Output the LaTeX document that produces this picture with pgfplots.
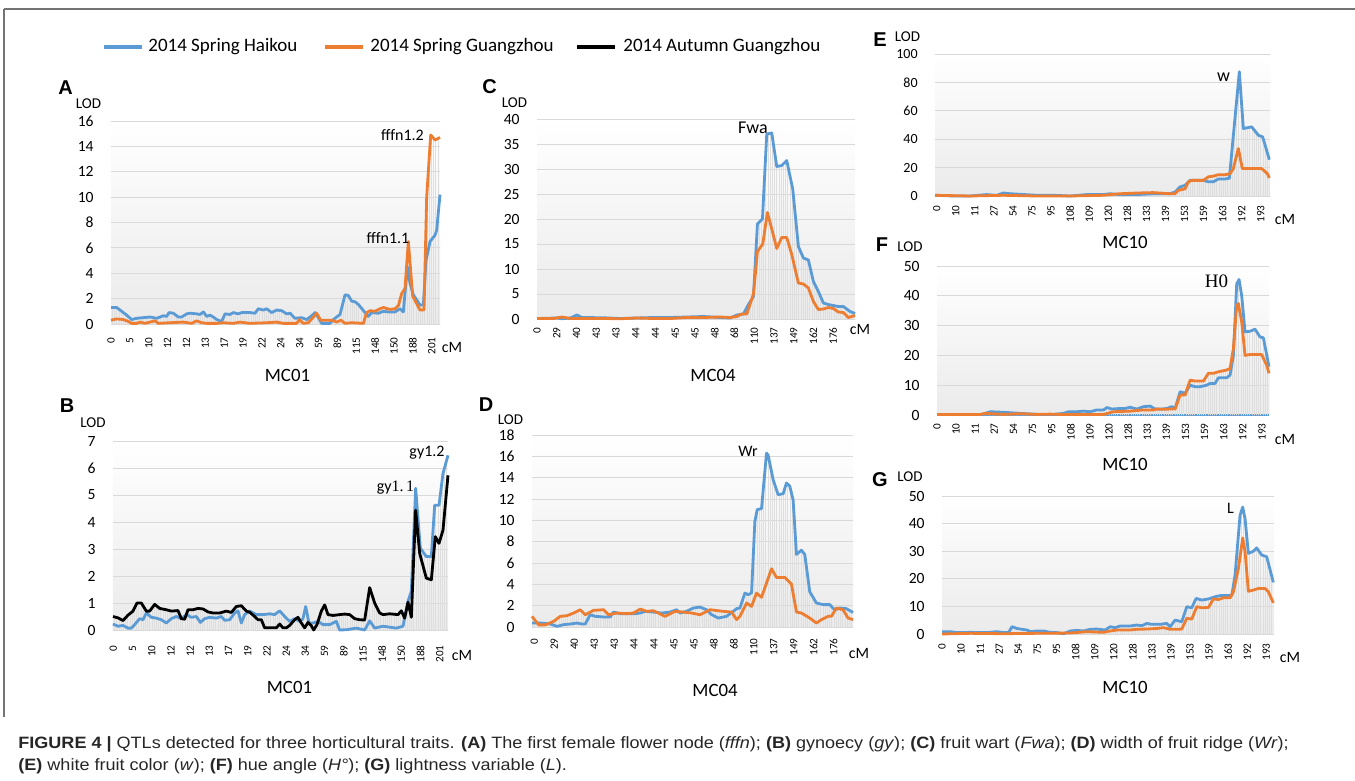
\documentclass[border=0pt]{standalone}
\usepackage{fontspec}
\setmainfont{Carlito}
\newfontfamily\capfont{Liberation Sans}
\newfontfamily\tnr{Liberation Serif}
\usepackage{pgfplots}
\pgfplotsset{compat=1.18}
\usepackage{pgfplotstable}
\usetikzlibrary{patterns.meta}
\definecolor{cblue}{HTML}{5B9BD5}
\definecolor{corange}{HTML}{ED7D31}
\definecolor{gridc}{HTML}{D9D9D9}
\pgfplotsset{
 qtl/.style={scale only axis, anchor=south west, axis line style={draw=none}, major tick length=0pt, tick style={draw=none}, ymin=0,
  ymajorgrids, grid style={draw=gridc, line width=0.5pt},
  axis background/.style={top color=white, bottom color=black!8},
  /pgf/number format/assume math mode=true,
  yticklabel style={font=\fontsize{7.8}{8}\selectfont, inner sep=0pt}, yticklabel shift=8.5pt,
  xticklabel style={font=\fontsize{5.6}{6}\selectfont, rotate=90, anchor=east, inner sep=0pt},
  clip=false},
 dl/.style={draw=none, pattern={Lines[angle=90,distance=1.1pt,line width=0.3pt]}, pattern color=black!13, forget plot},
 sb/.style={cblue, line width=1.4pt, line join=round},
 so/.style={corange, line width=1.4pt, line join=round},
 sk/.style={black, line width=1.4pt, line join=round},
}
% ---------- data (x = position along the marker axis, y = LOD) ----------
\pgfplotstableread[row sep=\\]{x y\\ 183 1.3\\ 200 1.3\\ 215 1.0\\ 230 0.7\\ 245 0.35\\ 260 0.45\\ 280 0.5\\ 300 0.55\\ 320 0.45\\ 340 0.65\\ 350 0.6\\ 357 0.9\\ 370 0.85\\ 385 0.55\\ 395 0.55\\ 410 0.8\\ 420 0.85\\ 440 0.8\\ 450 0.75\\ 460 0.95\\ 470 0.6\\ 480 0.7\\ 490 0.55\\ 500 0.35\\ 515 0.2\\ 525 0.8\\ 540 0.75\\ 550 0.9\\ 565 0.8\\ 575 0.9\\ 600 0.9\\ 615 0.85\\ 625 1.2\\ 640 1.1\\ 650 1.2\\ 665 0.9\\ 680 1.1\\ 695 1.05\\ 710 0.8\\ 720 0.85\\ 735 0.45\\ 755 0.5\\ 770 0.35\\ 785 0.65\\ 795 0.9\\ 805 0.5\\ 815 0.05\\ 840 0.05\\ 850 0.35\\ 870 0.75\\ 885 2.3\\ 895 2.25\\ 905 1.8\\ 915 1.75\\ 925 1.55\\ 945 0.9\\ 955 0.6\\ 965 0.9\\ 985 0.85\\ 1000 1.0\\ 1015 0.95\\ 1035 0.95\\ 1050 1.2\\ 1060 0.95\\ 1072 4.5\\ 1080 3.2\\ 1090 2.3\\ 1100 1.9\\ 1110 1.5\\ 1120 1.5\\ 1128 5.0\\ 1140 6.5\\ 1155 7.0\\ 1160 7.4\\ 1170 10.2\\}\Ablue
\pgfplotstableread[row sep=\\]{x y\\ 183 0.3\\ 200 0.4\\ 220 0.35\\ 235 0.2\\ 245 0.05\\ 260 0.05\\ 270 0.15\\ 285 0.05\\ 300 0.15\\ 315 0.25\\ 325 0.05\\ 360 0.1\\ 400 0.15\\ 425 0.05\\ 440 0.25\\ 455 0.1\\ 470 0.05\\ 500 0.05\\ 520 0.1\\ 550 0.05\\ 570 0.15\\ 600 0.05\\ 650 0.1\\ 680 0.15\\ 700 0.05\\ 740 0.05\\ 748 0.35\\ 760 0.05\\ 775 0.1\\ 800 0.85\\ 812 0.3\\ 845 0.3\\ 860 0.15\\ 873 0.3\\ 885 0.05\\ 905 0.1\\ 940 0.05\\ 950 0.9\\ 960 1.05\\ 975 1.0\\ 990 1.2\\ 1000 1.3\\ 1020 1.15\\ 1035 1.2\\ 1045 1.45\\ 1055 2.4\\ 1065 2.8\\ 1075 6.5\\ 1088 2.2\\ 1100 1.6\\ 1110 1.1\\ 1122 1.1\\ 1130 10.0\\ 1142 14.9\\ 1155 14.5\\ 1170 14.7\\}\Aorange
\pgfplotstableread[row sep=\\]{x y\\ 190 0.22\\ 205 0.14\\ 220 0.17\\ 235 0.07\\ 245 0.07\\ 255 0.2\\ 270 0.42\\ 280 0.38\\ 290 0.63\\ 305 0.47\\ 320 0.44\\ 335 0.38\\ 350 0.26\\ 365 0.42\\ 380 0.5\\ 395 0.42\\ 410 0.57\\ 425 0.47\\ 440 0.5\\ 452 0.28\\ 465 0.42\\ 480 0.47\\ 500 0.44\\ 515 0.5\\ 525 0.36\\ 540 0.38\\ 555 0.63\\ 565 0.71\\ 575 0.26\\ 585 0.57\\ 600 0.7\\ 620 0.57\\ 640 0.57\\ 660 0.6\\ 675 0.57\\ 690 0.71\\ 705 0.5\\ 720 0.32\\ 735 0.42\\ 750 0.32\\ 760 0.42\\ 768 0.87\\ 778 0.26\\ 790 0.26\\ 805 0.32\\ 820 0.2\\ 840 0.2\\ 860 0.32\\ 870 0.0\\ 890 0.01\\ 920 0.07\\ 945 0.0\\ 960 0.34\\ 975 0.07\\ 1000 0.14\\ 1040 0.07\\ 1060 0.14\\ 1075 1.06\\ 1085 1.43\\ 1098 5.25\\ 1112 3.03\\ 1130 2.72\\ 1145 2.72\\ 1155 4.62\\ 1168 4.62\\ 1180 5.8\\ 1195 6.47\\}\Bblue
\pgfplotstableread[row sep=\\]{x y\\ 190 0.5\\ 205 0.45\\ 220 0.35\\ 235 0.55\\ 250 0.7\\ 262 1.0\\ 275 1.0\\ 290 0.7\\ 300 0.7\\ 315 0.95\\ 330 0.8\\ 350 0.75\\ 365 0.7\\ 385 0.72\\ 395 0.42\\ 405 0.4\\ 415 0.75\\ 430 0.75\\ 445 0.8\\ 460 0.78\\ 475 0.67\\ 490 0.63\\ 510 0.63\\ 530 0.7\\ 545 0.65\\ 560 0.87\\ 575 0.9\\ 590 0.7\\ 600 0.66\\ 615 0.5\\ 625 0.38\\ 635 0.38\\ 645 0.08\\ 665 0.08\\ 680 0.08\\ 690 0.22\\ 700 0.08\\ 710 0.08\\ 720 0.17\\ 735 0.38\\ 745 0.47\\ 755 0.26\\ 765 0.08\\ 775 0.28\\ 785 0.16\\ 792 0.0\\ 802 0.2\\ 815 0.7\\ 825 0.93\\ 835 0.57\\ 850 0.54\\ 870 0.57\\ 885 0.59\\ 900 0.57\\ 915 0.42\\ 930 0.38\\ 945 0.37\\ 960 1.57\\ 975 1.0\\ 990 0.63\\ 1000 0.57\\ 1020 0.6\\ 1045 0.57\\ 1055 0.71\\ 1065 0.44\\ 1075 1.03\\ 1085 0.47\\ 1098 4.44\\ 1110 2.84\\ 1130 1.92\\ 1145 1.86\\ 1157 3.46\\ 1168 3.21\\ 1180 3.7\\ 1195 5.73\\}\Bblack
\pgfplotstableread[row sep=\\]{x y\\ 200 0.1\\ 260 0.2\\ 275 0.05\\ 300 0.2\\ 320 0.8\\ 335 0.3\\ 400 0.25\\ 450 0.1\\ 500 0.2\\ 550 0.3\\ 600 0.3\\ 650 0.4\\ 700 0.5\\ 750 0.3\\ 780 0.2\\ 800 0.8\\ 820 1.0\\ 835 2.9\\ 850 4.5\\ 862 19.0\\ 877 20.0\\ 890 37.0\\ 905 37.2\\ 920 30.5\\ 935 30.7\\ 950 31.7\\ 968 26.0\\ 985 14.5\\ 1000 12.2\\ 1015 11.8\\ 1030 7.5\\ 1045 5.5\\ 1060 3.2\\ 1075 2.9\\ 1090 2.7\\ 1105 2.5\\ 1120 2.5\\ 1140 1.5\\ 1155 1.1\\}\Cblue
\pgfplotstableread[row sep=\\]{x y\\ 200 0.1\\ 250 0.1\\ 275 0.4\\ 300 0.1\\ 350 0.1\\ 400 0.1\\ 450 0.05\\ 500 0.2\\ 550 0.1\\ 600 0.1\\ 650 0.3\\ 700 0.3\\ 750 0.4\\ 780 0.3\\ 800 0.5\\ 815 1.0\\ 830 1.0\\ 850 5.0\\ 862 13.5\\ 878 15.0\\ 892 21.3\\ 905 18.0\\ 920 14.1\\ 935 16.3\\ 950 16.3\\ 965 12.9\\ 985 7.2\\ 1000 7.0\\ 1015 6.2\\ 1030 3.5\\ 1045 1.9\\ 1060 2.0\\ 1075 2.3\\ 1090 2.1\\ 1105 1.4\\ 1120 1.3\\ 1135 0.3\\ 1155 0.7\\}\Corange
\pgfplotstableread[row sep=\\]{x y\\ 185 0.37\\ 215 0.37\\ 240 0.28\\ 260 0.06\\ 280 0.22\\ 300 0.28\\ 320 0.37\\ 335 0.28\\ 345 0.28\\ 360 1.15\\ 375 1.0\\ 400 0.94\\ 420 0.94\\ 430 1.4\\ 450 1.25\\ 470 1.25\\ 495 1.25\\ 510 1.31\\ 525 1.47\\ 550 1.4\\ 575 1.31\\ 600 1.4\\ 620 1.62\\ 630 1.31\\ 650 1.47\\ 670 1.78\\ 690 1.87\\ 710 1.62\\ 725 1.15\\ 745 0.84\\ 770 1.0\\ 790 1.47\\ 800 1.72\\ 810 1.78\\ 825 3.18\\ 835 3.03\\ 845 3.2\\ 855 9.9\\ 862 11.0\\ 875 11.1\\ 890 16.3\\ 895 16.1\\ 910 13.8\\ 925 12.4\\ 940 12.5\\ 950 13.5\\ 960 13.2\\ 970 11.9\\ 980 6.8\\ 995 7.2\\ 1005 6.8\\ 1020 3.3\\ 1040 2.25\\ 1060 2.1\\ 1080 2.1\\ 1095 1.6\\ 1110 1.78\\ 1130 1.72\\ 1150 1.37\\}\Dblue
\pgfplotstableread[row sep=\\]{x y\\ 185 1.0\\ 205 0.2\\ 225 0.2\\ 250 0.53\\ 270 1.0\\ 290 1.06\\ 310 1.31\\ 330 1.62\\ 345 1.15\\ 370 1.56\\ 400 1.62\\ 415 1.15\\ 440 1.31\\ 470 1.25\\ 490 1.31\\ 510 1.68\\ 530 1.47\\ 550 1.53\\ 585 1.0\\ 615 1.47\\ 640 1.4\\ 665 1.31\\ 690 1.15\\ 720 1.62\\ 760 1.47\\ 785 1.4\\ 800 0.69\\ 810 1.0\\ 830 2.25\\ 845 1.93\\ 860 3.18\\ 875 2.78\\ 905 5.46\\ 920 4.65\\ 945 4.65\\ 965 4.02\\ 980 1.4\\ 995 1.31\\ 1020 0.84\\ 1040 0.37\\ 1055 0.69\\ 1075 1.0\\ 1085 1.0\\ 1100 1.78\\ 1120 1.62\\ 1135 0.84\\ 1150 0.69\\}\Dorange
\pgfplotstableread[row sep=\\]{x y\\ 195 0.5\\ 250 0\\ 300 0\\ 350 1\\ 380 0.5\\ 400 2.1\\ 420 1.6\\ 450 1.2\\ 500 0.5\\ 550 0.5\\ 600 0\\ 650 1\\ 700 1\\ 720 1.6\\ 750 1\\ 800 1\\ 850 1.6\\ 900 1.6\\ 915 2.8\\ 930 6.4\\ 945 7.5\\ 960 11\\ 975 11\\ 1000 11\\ 1015 10\\ 1030 10\\ 1045 12\\ 1065 12\\ 1078 12.5\\ 1108 87.5\\ 1120 47.5\\ 1145 48.7\\ 1165 42.8\\ 1178 41.6\\ 1198 25.6\\}\Eblue
\pgfplotstableread[row sep=\\]{x y\\ 195 0.5\\ 300 0\\ 400 0.5\\ 500 0\\ 600 0\\ 700 0.5\\ 720 1\\ 750 1.6\\ 800 2.1\\ 850 2.4\\ 900 1.6\\ 915 1.6\\ 925 4\\ 945 5\\ 955 10\\ 965 11\\ 1000 11\\ 1015 13.5\\ 1030 14\\ 1045 15\\ 1065 15\\ 1080 15.7\\ 1090 19.3\\ 1105 33.4\\ 1117 19.3\\ 1175 19.3\\ 1192 15.8\\ 1198 12.7\\}\Eorange
\pgfplotstableread[row sep=\\]{x y\\ 200 0.2\\ 300 0.2\\ 335 0.2\\ 360 1.1\\ 400 0.9\\ 450 0.55\\ 500 0.2\\ 550 0.2\\ 580 0.55\\ 595 1.1\\ 620 1.1\\ 640 1.3\\ 660 1.1\\ 680 1.7\\ 700 1.7\\ 710 2.5\\ 725 2.0\\ 750 2.2\\ 765 2.2\\ 780 2.6\\ 800 2.0\\ 820 2.8\\ 840 3.0\\ 855 2.0\\ 875 2.0\\ 890 2.2\\ 905 2.8\\ 915 2.2\\ 930 7.8\\ 945 7.3\\ 960 10\\ 975 9.5\\ 990 9.5\\ 1010 10\\ 1020 10.6\\ 1035 10.6\\ 1045 12.5\\ 1070 12.5\\ 1080 13.4\\ 1090 20\\ 1100 44\\ 1107 45.5\\ 1115 40\\ 1125 27.9\\ 1140 28.1\\ 1155 28.8\\ 1170 26.2\\ 1180 25.9\\ 1197 16.2\\}\Fblue
\pgfplotstableread[row sep=\\]{x y\\ 200 0.2\\ 330 0.2\\ 345 0.55\\ 400 0.2\\ 450 0.45\\ 500 0.2\\ 540 0.3\\ 570 0.2\\ 600 0.2\\ 650 0.2\\ 700 0.2\\ 730 1.1\\ 780 1.3\\ 820 1.7\\ 850 1.7\\ 860 2.0\\ 880 1.9\\ 900 2.0\\ 915 2.0\\ 930 6.7\\ 945 6.7\\ 960 11.7\\ 975 11.4\\ 1000 11.4\\ 1015 14\\ 1030 14\\ 1045 14.5\\ 1070 15.1\\ 1080 15.6\\ 1090 22.3\\ 1100 36.8\\ 1105 37.4\\ 1115 31.2\\ 1125 20\\ 1140 20.3\\ 1175 20.3\\ 1190 16.7\\ 1197 14\\}\Forange
\pgfplotstableread[row sep=\\]{x y\\ 215 0.85\\ 240 0.85\\ 260 0.5\\ 300 0.6\\ 350 0.5\\ 380 0.85\\ 400 0.5\\ 415 0.5\\ 425 2.65\\ 440 2.0\\ 455 1.7\\ 470 1.45\\ 480 0.85\\ 500 1.1\\ 520 1.1\\ 540 0.6\\ 560 0.5\\ 580 0.1\\ 600 1.1\\ 620 1.3\\ 640 1.1\\ 660 1.7\\ 680 1.8\\ 705 1.45\\ 720 2.65\\ 735 2.3\\ 750 2.9\\ 780 2.9\\ 800 3.25\\ 815 3.0\\ 830 3.85\\ 845 3.5\\ 870 3.5\\ 890 3.85\\ 900 2.65\\ 915 5.06\\ 935 4.45\\ 950 9.9\\ 965 9.5\\ 978 12.9\\ 995 12.3\\ 1015 12.7\\ 1035 13.5\\ 1050 13.9\\ 1065 13.9\\ 1085 13.9\\ 1095 21.3\\ 1110 43\\ 1118 46\\ 1125 41.8\\ 1135 29.2\\ 1150 30\\ 1160 31.2\\ 1175 28.6\\ 1190 28\\ 1210 18.7\\}\Gblue
\pgfplotstableread[row sep=\\]{x y\\ 215 0\\ 300 0.25\\ 400 0.1\\ 500 0.25\\ 600 0.35\\ 650 0.85\\ 700 0.6\\ 720 1.1\\ 740 1.45\\ 780 1.45\\ 800 1.7\\ 830 1.8\\ 860 2.0\\ 880 2.3\\ 900 1.7\\ 925 1.7\\ 935 1.8\\ 950 5.7\\ 965 5.4\\ 980 9.9\\ 995 9.5\\ 1015 9.6\\ 1030 12.7\\ 1045 12.5\\ 1060 13.1\\ 1080 13.1\\ 1090 15.3\\ 1105 23.7\\ 1118 34.8\\ 1125 29.8\\ 1135 15.5\\ 1150 15.9\\ 1165 16.5\\ 1185 16.5\\ 1195 15.3\\ 1210 11.3\\}\Gorange
\begin{document}
\begin{tikzpicture}
\path[use as bounding box] (0,0) rectangle (677.5pt,-390.5pt);
% frame
\draw[black!55, line width=0.6pt] (2pt,-4.5pt) -- (677.5pt,-4.5pt);
\draw[black!55, line width=0.6pt] (2pt,-4.5pt) -- (2pt,-358.5pt);
% legend
\draw[cblue, line width=2pt] (52pt,-23.5pt) -- (71pt,-23.5pt);
\node[anchor=west, inner sep=0pt, font=\fontsize{9.5}{10}\selectfont] at (74pt,-23.5pt) {2014 Spring Haikou};
\draw[corange, line width=2pt] (162.5pt,-23.5pt) -- (181.5pt,-23.5pt);
\node[anchor=west, inner sep=0pt, font=\fontsize{9.5}{10}\selectfont] at (185pt,-23.5pt) {2014 Spring Guangzhou};
\draw[black, line width=2pt] (288.5pt,-23.5pt) -- (307.5pt,-23.5pt);
\node[anchor=west, inner sep=0pt, font=\fontsize{9.5}{10}\selectfont] at (311.5pt,-23.5pt) {2014 Autumn Guangzhou};

% ---------- A ----------
\begin{axis}[qtl, at={(55.5pt,-162pt)}, width=164.5pt, height=101.5pt, xmin=183, xmax=1170, ymax=16, ytick={0,2,...,16},
  xtick={183,239.6,...,1150}, xticklabels={0,5,10,12,12,13,17,19,22,24,34,59,89,115,148,150,188,201}, xticklabel shift=6.5pt]
\addplot[dl] table {\Ablue} \closedcycle;
\addplot[dl] table {\Aorange} \closedcycle;
\addplot[sb] table {\Ablue};
\addplot[so] table {\Aorange};
\end{axis}
% ---------- B ----------
\begin{axis}[qtl, at={(56.5pt,-315pt)}, width=167.5pt, height=94.5pt, xmin=190, xmax=1195, ymax=7, ytick={0,1,...,7},
  xtick={191,248.6,...,1175}, xticklabels={0,5,10,12,12,13,17,19,22,24,34,59,89,115,148,150,188,201}, xticklabel shift=7.5pt]
\addplot[dl] table {\Bblue} \closedcycle;
\addplot[dl] table {\Bblack} \closedcycle;
\addplot[sb] table {\Bblue};
\addplot[sk] table {\Bblack};
\end{axis}
% ---------- C ----------
\begin{axis}[qtl, at={(268.5pt,-159.5pt)}, width=159pt, height=100pt, xmin=200, xmax=1155, ymax=40, ytick={0,5,...,40},
  xtick={200,259.3,...,1095}, xticklabels={0,29,40,43,43,44,44,45,45,48,68,110,137,149,162,176}, xticklabel shift=4pt]
\addplot[dl] table {\Cblue} \closedcycle;
\addplot[dl] table {\Corange} \closedcycle;
\addplot[sb] table {\Cblue};
\addplot[so] table {\Corange};
\end{axis}
% ---------- D ----------
\begin{axis}[qtl, at={(266pt,-313.5pt)}, width=160.5pt, height=96pt, xmin=185, xmax=1150, ymax=18, ytick={0,2,...,18},
  xtick={192,252,...,1095}, xticklabels={0,29,40,43,43,44,44,45,45,48,68,110,137,149,162,176}, xticklabel shift=5.5pt]
\addplot[dl] table {\Dblue} \closedcycle;
\addplot[dl] table {\Dorange} \closedcycle;
\addplot[sb] table {\Dblue};
\addplot[so] table {\Dorange};
\end{axis}
% ---------- E ----------
\begin{axis}[qtl, at={(467.5pt,-98pt)}, width=167.5pt, height=71pt, xmin=195, xmax=1200, ymax=100, ytick={0,20,...,100},
  yticklabel style={font=\fontsize{7}{7}\selectfont},
  xtick={200,257.2,...,1180}, xticklabels={0,10,11,27,54,75,95,108,109,120,128,133,139,153,159,163,192,193}, xticklabel shift=4.5pt]
\addplot[dl] table {\Eblue} \closedcycle;
\addplot[dl] table {\Eorange} \closedcycle;
\addplot[sb] table {\Eblue};
\addplot[so] table {\Eorange};
\end{axis}
% ---------- F ----------
\begin{axis}[qtl, at={(468.5pt,-207.5pt)}, width=166pt, height=74.5pt, xmin=200, xmax=1197, ymax=50, ytick={0,10,...,50},
  axis x line*=bottom, x axis line style={-, draw=cblue, line width=0.7pt},
  xtick={200,257.4,...,1180}, xticklabels={0,10,11,27,54,75,95,108,109,120,128,133,139,153,159,163,192,193}, xticklabel shift=4pt]
\addplot[dl] table {\Fblue} \closedcycle;
\addplot[dl] table {\Forange} \closedcycle;
\addplot[sb] table {\Fblue};
\addplot[so] table {\Forange};
\end{axis}
% ---------- G ----------
\begin{axis}[qtl, at={(471pt,-317pt)}, width=166pt, height=69pt, xmin=215, xmax=1212, ymax=50, ytick={0,10,...,50},
  xtick={215,272.3,...,1195}, xticklabels={0,10,11,27,54,75,95,108,109,120,128,133,139,153,159,163,192,193}, xticklabel shift=4.5pt]
\addplot[dl] table {\Gblue} \closedcycle;
\addplot[dl] table {\Gorange} \closedcycle;
\addplot[sb] table {\Gblue};
\addplot[so] table {\Gorange};
\end{axis}

% panel letters
\begin{scope}[every node/.style={inner sep=0pt, font=\capfont\bfseries\fontsize{10}{10}\selectfont}]
\node at (32.75pt,-44pt) {A};
\node at (33.5pt,-203pt) {B};
\node at (244.75pt,-43.25pt) {C};
\node at (243pt,-202.5pt) {D};
\node at (440pt,-20pt) {E};
\node at (441pt,-122.5pt) {F};
\node at (440pt,-240pt) {G};
\end{scope}
% LOD
\begin{scope}[every node/.style={inner sep=0pt, font=\fontsize{7.5}{8}\selectfont}]
\node at (44.25pt,-52pt) {LOD};
\node at (46.5pt,-211.5pt) {LOD};
\node at (257.25pt,-51.5pt) {LOD};
\node at (255.25pt,-210pt) {LOD};
\node at (453.75pt,-18.5pt) {LOD};
\node at (455pt,-123.5pt) {LOD};
\node at (455pt,-238.5pt) {LOD};
\end{scope}
% cM
\begin{scope}[every node/.style={inner sep=0pt, font=\fontsize{7.9}{8}\selectfont}]
\node at (226pt,-173.5pt) {cM};
\node at (231pt,-327.5pt) {cM};
\node at (430pt,-164.5pt) {cM};
\node at (429.5pt,-326.5pt) {cM};
\node at (642.5pt,-109.5pt) {cM};
\node at (642.5pt,-219.5pt) {cM};
\node at (645pt,-328.5pt) {cM};
\end{scope}
% chromosome names
\begin{scope}[every node/.style={inner sep=0pt, font=\fontsize{9.4}{10}\selectfont}]
\node at (143.75pt,-187.5pt) {MC01};
\node at (144.75pt,-343.5pt) {MC01};
\node at (356.5pt,-187.5pt) {MC04};
\node at (357.5pt,-345pt) {MC04};
\node at (562.5pt,-121pt) {MC10};
\node at (562.5pt,-232pt) {MC10};
\node at (562.5pt,-343.5pt) {MC10};
\end{scope}
% QTL names
\begin{scope}[every node/.style={inner sep=0pt, font=\fontsize{8}{8}\selectfont}]
\node at (201.25pt,-67.75pt) {fffn1.2};
\node at (194pt,-119pt) {fffn1.1};
\node at (213.5pt,-226.5pt) {gy1.2};
\node at (197.75pt,-243.75pt) {gy{\tnr 1.\,1}};
\node[font=\fontsize{9}{9}\selectfont] at (376.5pt,-63.75pt) {Fwa};
\node at (374pt,-225.5pt) {Wr};
\node[font=\fontsize{9}{9}\selectfont] at (611.75pt,-38.75pt) {w};
\node[font=\tnr\fontsize{9.5}{9.5}\selectfont] at (608.25pt,-140.5pt) {H0};
\node at (615.25pt,-254pt) {L};
\end{scope}
% caption
\begin{scope}[every node/.style={anchor=base west, inner sep=0pt, text=black!85, font=\capfont\fontsize{8.2}{9}\selectfont}]
\node at (9pt,-374pt) {\scalebox{1.1}[1]{\textbf{FIGURE 4 |} QTLs detected for three horticultural traits. \textbf{(A)} The first female flower node (\textit{fffn}); \textbf{(B)} gynoecy (\textit{gy}); \textbf{(C)} fruit wart (\textit{Fwa}); \textbf{(D)} width of fruit ridge (\textit{Wr});}};
\node at (9pt,-385pt) {\scalebox{1.1}[1]{\textbf{(E)} white fruit color (\textit{w}); \textbf{(F)} hue angle (\textit{H°}); \textbf{(G)} lightness variable (\textit{L}).}};
\end{scope}
\end{tikzpicture}
\end{document}
